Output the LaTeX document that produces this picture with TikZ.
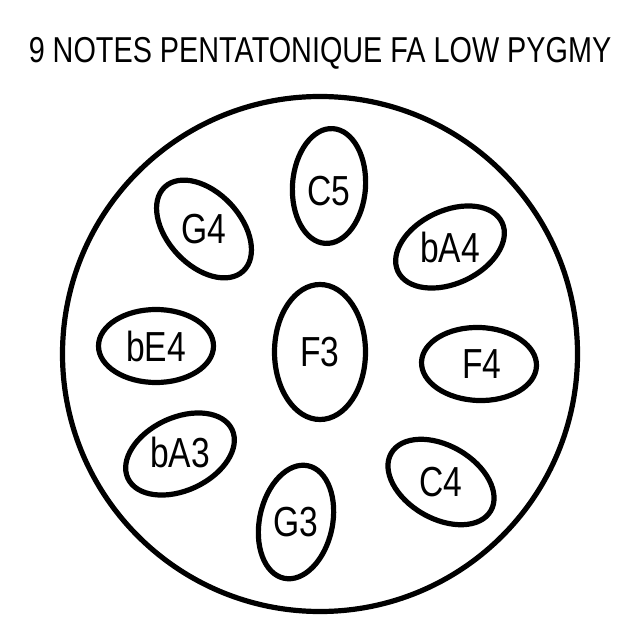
\documentclass[tikz,border=0pt]{standalone}
\usepackage{fontspec}
\setmainfont[FakeStretch=0.8]{Liberation Sans}
\usetikzlibrary{shapes.geometric}
\begin{document}
\begin{tikzpicture}[x=0.5pt,y=-0.5pt,
  pad/.style={ellipse,draw=black,line width=2.6pt,inner sep=0pt,
    minimum width=57.5pt,minimum height=36.5pt},
  bigpad/.style={ellipse,draw=black,line width=2.6pt,inner sep=0pt,
    minimum width=45.5pt,minimum height=67.5pt},
  drumshell/.style={circle,draw=black,line width=2.6pt,inner sep=0pt,
    minimum size=257.5pt},
  notelabel/.style={inner sep=0pt,font=\fontsize{21}{24}\selectfont},
  titlelabel/.style={inner sep=0pt,font=\fontsize{18}{21}\selectfont}]
\useasboundingbox (0,0) rectangle (640,640);
\fill[white] (0,0) rectangle (640,640);
\node[titlelabel] (title) at (320,53) {9 NOTES PENTATONIQUE FA LOW PYGMY};
\node[drumshell] (drum) at (320,354) {};
% pads
\node[bigpad] (F3) at (320,352) {};
\node[pad,rotate=86] (C5) at (329,186) {};
\node[pad,rotate=25] (bA4) at (450,247) {};
\node[pad,rotate=-2] (F4) at (479,364) {};
\node[pad,rotate=-30] (C4) at (441,482) {};
\node[pad,rotate=78] (G3) at (296,522) {};
\node[pad,rotate=25] (bA3) at (180,454) {};
\node[pad,rotate=0] (bE4) at (156,346) {};
\node[pad,rotate=-47] (G4) at (204,229) {};
% labels
\node[notelabel] (tF3) at (F3.center) {F3};
\node[notelabel] (tC5) at ([yshift=-2.5pt]C5.center) {C5};
\node[notelabel] (tbA4) at (bA4.center) {bA4};
\node[notelabel] (tF4) at ([xshift=1.5pt]F4.center) {F4};
\node[notelabel] (tC4) at (C4.center) {C4};
\node[notelabel] (tG3) at (G3.center) {G3};
\node[notelabel] (tbA3) at ([yshift=1pt]bA3.center) {bA3};
\node[notelabel] (tbE4) at (bE4.center) {bE4};
\node[notelabel] (tG4) at (G4.center) {G4};
\end{tikzpicture}
\end{document}
